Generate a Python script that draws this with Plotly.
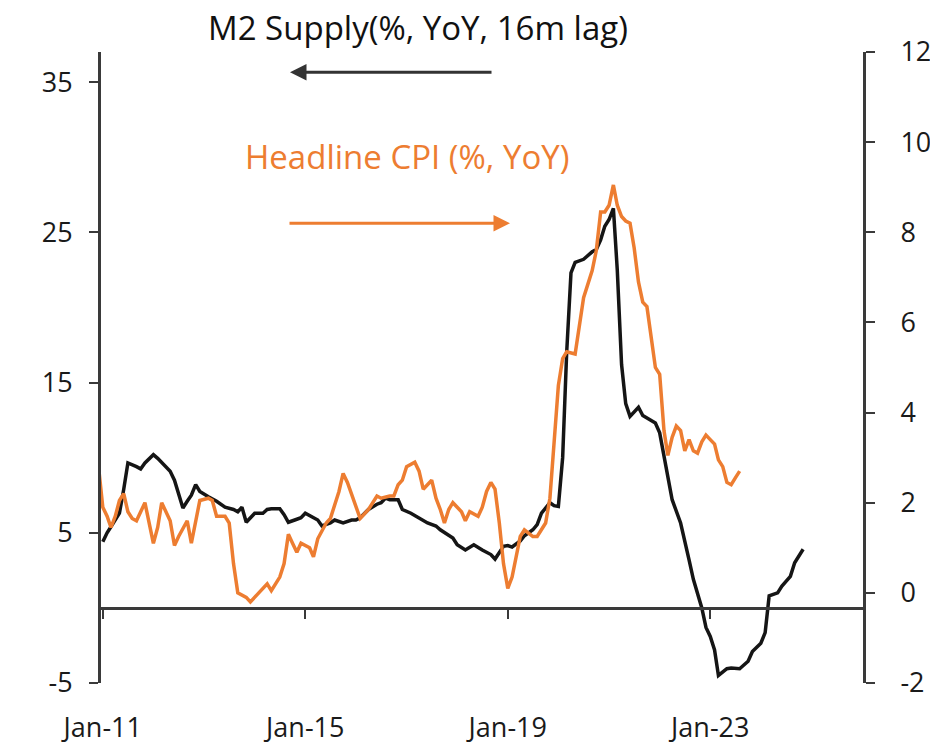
import plotly.graph_objects as go

# ---------------- data ----------------
# M2 supply (% YoY, 16m lag) -> left axis ; month index 0 = Jan-2011
m2_months = [0, 1, 2, 4, 5, 6, 8, 9, 10, 12, 13, 14, 16, 17, 19, 20, 21, 22, 23, 25,
             27, 29, 31, 32, 33, 34, 36, 38, 39, 40, 42, 43, 44, 46, 47, 48, 50, 51, 52, 54,
             55, 57, 59, 60, 61, 63, 65, 66, 67, 68, 70, 71, 73, 75, 77, 79, 80, 83, 84, 86,
             88, 90, 92, 93, 95, 96, 97, 99, 100, 102, 103, 104, 106, 107, 108, 109, 110, 111, 112, 114,
             116, 117, 118, 119, 120, 121, 122, 123, 124, 125, 127, 128, 129, 131, 132, 133, 134, 135, 137, 138,
             139, 140, 141, 142, 143, 144, 145, 146, 148, 149, 151, 153, 154, 156, 157, 158, 160, 161, 163, 164,
             166]
m2_values = [4.4, 5.0, 5.4, 6.3, 7.9, 9.65, 9.4, 9.25, 9.65, 10.2, 9.95, 9.65, 9.1, 8.5, 6.65, 7.1, 7.5, 8.2, 7.75, 7.4,
             7.1, 6.7, 6.55, 6.4, 6.7, 5.7, 6.3, 6.3, 6.55, 6.6, 6.6, 6.2, 5.7, 5.9, 6.0, 6.3, 6.0, 5.85, 5.45, 5.65,
             5.85, 5.65, 5.85, 5.85, 6.0, 6.55, 6.9, 7.0, 7.3, 7.2, 7.2, 6.55, 6.3, 6.0, 5.65, 5.45, 5.2, 4.65, 4.2, 3.85,
             4.2, 3.85, 3.55, 3.25, 4.1, 4.15, 4.05, 4.45, 4.8, 5.2, 5.55, 6.3, 7.0, 6.8, 6.75, 10.0, 17.0, 22.3, 23.0, 23.2,
             23.7, 23.85, 24.5, 25.4, 25.85, 26.6, 22.5, 16.2, 13.6, 12.75, 13.35, 12.8, 12.65, 12.3, 11.65, 10.1, 8.75, 7.2, 5.65, 4.55,
             3.2, 1.9, 1.0, 0.0, -1.3, -1.9, -2.8, -4.5, -4.05, -4.0, -4.05, -3.55, -2.9, -2.35, -1.65, 0.8, 1.0, 1.45, 2.1, 3.0,
             3.9]

# Headline CPI (% YoY) -> right axis
cpi_months = [-1, 0, 1, 2, 3, 4, 5, 6, 7, 8, 10, 12, 13, 14, 16, 17, 18, 20, 21, 23,
              25, 26, 27, 29, 30, 31, 32, 34, 35, 37, 39, 40, 42, 43, 44, 45, 46, 47, 49, 50,
              51, 53, 54, 56, 57, 58, 60, 61, 63, 65, 66, 68, 69, 70, 71, 72, 74, 75, 76, 78,
              79, 80, 81, 82, 83, 85, 86, 87, 89, 90, 91, 92, 93, 94, 95, 96, 97, 98, 99, 100,
              102, 103, 104, 105, 106, 107, 108, 109, 110, 112, 113, 114, 115, 116, 117, 118, 119, 120, 121, 122,
              123, 124, 125, 126, 127, 128, 129, 130, 131, 132, 133, 134, 135, 136, 137, 138, 139, 140, 141, 142,
              143, 144, 145, 146, 147, 148, 149, 150, 151]
cpi_values = [2.8, 1.9, 1.7, 1.45, 1.7, 2.05, 2.2, 1.8, 1.65, 1.6, 2.0, 1.1, 1.45, 2.0, 1.6, 1.05, 1.25, 1.6, 1.1, 2.05,
              2.1, 2.05, 1.7, 1.7, 1.55, 0.65, 0.0, -0.1, -0.2, 0.0, 0.2, 0.05, 0.35, 0.65, 1.3, 1.1, 0.9, 1.1, 1.0, 0.8,
              1.2, 1.55, 1.65, 2.25, 2.65, 2.45, 1.9, 1.65, 1.85, 2.15, 2.1, 2.15, 2.15, 2.4, 2.5, 2.8, 2.9, 2.7, 2.3, 2.5,
              2.1, 1.85, 1.55, 1.85, 2.0, 1.8, 1.6, 1.8, 1.7, 1.9, 2.25, 2.45, 2.3, 1.55, 0.65, 0.1, 0.35, 0.8, 1.25, 1.4,
              1.25, 1.25, 1.4, 1.55, 2.1, 3.4, 4.6, 5.2, 5.35, 5.3, 5.9, 6.55, 6.85, 7.15, 7.6, 8.45, 8.45, 8.6, 9.05, 8.6,
              8.35, 8.25, 8.2, 7.65, 6.9, 6.45, 6.35, 5.6, 5.0, 4.85, 3.6, 3.05, 3.45, 3.7, 3.6, 3.15, 3.4, 3.15, 3.1, 3.35,
              3.5, 3.4, 3.3, 2.95, 2.8, 2.45, 2.4, 2.55, 2.7]

left_ticks = [-5, 5, 15, 25, 35]
left_tick_text = ["-5", "5", "15", "25", "35"]
right_ticks = [-2, 0, 2, 4, 6, 8, 10, 12]
right_tick_text = ["-2", "0", "2", "4", "6", "8", "10", "12"]
x_tick_dates = ["2011-01-01", "2015-01-01", "2019-01-01", "2023-01-01"]
x_tick_labels = ["Jan-11", "Jan-15", "Jan-19", "Jan-23"]

m2_label = "M2 Supply(%, YoY, 16m lag)"
cpi_label = "Headline CPI (%, YoY)"


def month_str(m):
    y = 2011 + (m // 12)
    mo = m % 12 + 1
    return f"{y:04d}-{mo:02d}-01"


m2_dates = [month_str(m) for m in m2_months]
cpi_dates = [month_str(m) for m in cpi_months]

ORANGE = "#ED7D31"
BLACK = "#151515"
AXIS = "#3a3a3a"
FONT = "Open Sans"

fig = go.Figure()
fig.add_trace(go.Scatter(x=m2_dates, y=m2_values, mode="lines", name=m2_label,
                         line=dict(color=BLACK, width=3.5), yaxis="y"))
fig.add_trace(go.Scatter(x=cpi_dates, y=cpi_values, mode="lines", name=cpi_label,
                         line=dict(color=ORANGE, width=3.5), yaxis="y2"))

W, H = 930, 745
L, R, T, B = 101, 67, 52, 62
plot_w = W - L - R
plot_h = H - T - B


def px(xpix):
    return (xpix - L) / plot_w


def py(ypix):
    return (H - B - ypix) / plot_h


tick_font = dict(size=27, family=FONT, color="#1a1a1a")

fig.update_layout(
    width=W, height=H,
    margin=dict(l=L, r=R, t=T, b=B, pad=0, autoexpand=False),
    paper_bgcolor="white", plot_bgcolor="white",
    showlegend=False,
    font=dict(family=FONT, color="#1a1a1a", size=27),
    xaxis=dict(
        type="date",
        range=["2010-12-19", "2026-01-07"],
        tickvals=x_tick_dates, ticktext=x_tick_labels,
        showgrid=False, zeroline=False, automargin=False,
        showline=True, linecolor=AXIS, linewidth=3,
        ticks="outside", ticklen=9, tickwidth=2, tickcolor=AXIS,
        anchor="free", position=(0 - (-5)) / (37 - (-5)),
        ticklabelstandoff=86,
        tickfont=tick_font,
    ),
    yaxis=dict(
        range=[-5, 37], tickvals=left_ticks, ticktext=left_tick_text,
        showgrid=False, zeroline=False, automargin=False,
        showline=True, linecolor=AXIS, linewidth=3,
        ticks="outside", ticklen=9, tickwidth=2, tickcolor=AXIS,
        ticklabelstandoff=11,
        tickfont=tick_font,
    ),
    yaxis2=dict(
        range=[-2, 12], tickvals=right_ticks, ticktext=right_tick_text,
        overlaying="y", side="right", anchor="x",
        showgrid=False, zeroline=False, automargin=False,
        showline=True, linecolor=AXIS, linewidth=3,
        ticks="outside", ticklen=9, tickwidth=2, tickcolor=AXIS,
        ticklabelstandoff=20,
        tickfont=tick_font,
    ),
    annotations=[
        dict(text=m2_label, xref="paper", yref="paper", x=px(418), y=py(27),
             xanchor="center", yanchor="middle", showarrow=False,
             font=dict(size=33, family=FONT, color="#111111")),
        dict(text=cpi_label, xref="paper", yref="paper", x=px(407), y=py(156),
             xanchor="center", yanchor="middle", showarrow=False,
             font=dict(size=33, family=FONT, color=ORANGE)),
        dict(text="", xref="paper", yref="paper", x=px(290), y=py(72.3),
             ax=203, ay=0, showarrow=True, arrowhead=2, arrowsize=1.1,
             arrowwidth=3, arrowcolor="#333333"),
        dict(text="", xref="paper", yref="paper", x=px(510), y=py(223.3),
             ax=-222, ay=0, showarrow=True, arrowhead=2, arrowsize=1.1,
             arrowwidth=3, arrowcolor=ORANGE),
    ],
)

fig.write_html("out.html", config={"displayModeBar": False},
               post_script="document.body.style.margin='0px';")
